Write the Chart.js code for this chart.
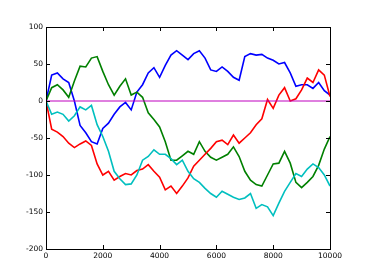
<!DOCTYPE html>
<html>
<head>
<meta charset="utf-8">
<script src="https://cdn.jsdelivr.net/npm/chart.js@4"></script>
<style>
  html, body { margin:0; padding:0; background:#fff; }
  #wrap { width:367px; height:277px; }
</style>
</head>
<body>
<div id="wrap"><canvas id="chart" width="367" height="277"></canvas></div>
<script>
// Steps every 200 steps
const steps = [];
for (let s = 0; s <= 10000; s += 200) steps.push(s);

const walkBlue = [0,35,38,30,25,0,-33,-43,-55,-58,-37,-30,-18,-8,-2,-12,12,22,38,45,32,48,62,68,62,56,64,68,58,42,40,46,40,32,28,60,64,62,63,58,55,50,52,38,20,22,22,17,25,14,8];
const walkGreen = [0,18,22,15,5,27,47,46,58,60,40,22,8,20,30,8,12,5,-16,-25,-35,-55,-80,-80,-74,-68,-72,-55,-68,-76,-80,-76,-72,-62,-75,-95,-107,-113,-115,-100,-85,-84,-68,-84,-110,-117,-110,-102,-87,-65,-48];
const walkRed = [0,-38,-42,-48,-57,-63,-58,-54,-60,-85,-100,-95,-107,-102,-98,-100,-94,-92,-86,-95,-103,-120,-115,-125,-115,-104,-88,-80,-72,-64,-55,-53,-59,-46,-57,-50,-43,-32,-24,2,-10,8,18,0,3,15,31,25,42,35,6];
const walkCyan = [0,-18,-15,-18,-27,-20,-8,-12,-6,-32,-48,-68,-95,-105,-113,-112,-100,-80,-75,-66,-72,-72,-78,-86,-80,-95,-105,-110,-118,-125,-130,-122,-126,-130,-133,-131,-125,-145,-140,-143,-155,-138,-122,-110,-98,-102,-92,-85,-90,-100,-115];
const zeroLineX = [0, 10000];
const zeroLineY = [0, 0];

const xTicks = [0,2000,4000,6000,8000,10000];
const yTicks = [-200,-150,-100,-50,0,50,100];

function pts(ys, xs) { return ys.map((y, i) => ({ x: xs[i], y: y })); }

// frame + inward tick marks on all four sides, like the reference
const frameTicks = {
  id: 'frameTicks',
  afterDraw(chart) {
    const { ctx, chartArea: a, scales } = chart;
    ctx.save();
    ctx.strokeStyle = '#000';
    ctx.lineWidth = 1;
    ctx.beginPath();
    xTicks.forEach(v => {
      const px = Math.round(scales.x.getPixelForValue(v)) + 0.5;
      ctx.moveTo(px, a.bottom); ctx.lineTo(px, a.bottom - 4);
      ctx.moveTo(px, a.top); ctx.lineTo(px, a.top + 4);
    });
    yTicks.forEach(v => {
      const py = Math.round(scales.y.getPixelForValue(v)) + 0.5;
      ctx.moveTo(a.left, py); ctx.lineTo(a.left + 4, py);
      ctx.moveTo(a.right, py); ctx.lineTo(a.right - 4, py);
    });
    ctx.stroke();
    ctx.strokeRect(Math.round(a.left) + 0.5, Math.round(a.top) + 0.5,
                   Math.round(a.right - a.left), Math.round(a.bottom - a.top));
    ctx.restore();
  }
};

const lineDs = (data, color, order) => ({
  data: data, borderColor: color, backgroundColor: color,
  borderWidth: 1.6, pointRadius: 0, tension: 0, fill: false, order: order
});

new Chart(document.getElementById('chart').getContext('2d'), {
  type: 'line',
  data: {
    datasets: [
      lineDs(pts(walkBlue, steps), '#0000ff', 5),
      lineDs(pts(walkGreen, steps), '#008000', 4),
      lineDs(pts(walkRed, steps), '#ff0000', 3),
      lineDs(pts(walkCyan, steps), '#00bfbf', 2),
      Object.assign(lineDs(pts(zeroLineY, zeroLineX), '#bf00bf', 1), { borderWidth: 1 })
    ]
  },
  options: {
    responsive: false,
    animation: false,
    parsing: true,
    layout: { padding: { top: 27, right: 37, left: 0, bottom: 0 } },
    plugins: { legend: { display: false }, tooltip: { enabled: false } },
    scales: {
      x: {
        type: 'linear', min: 0, max: 10000,
        afterBuildTicks: s => { s.ticks = xTicks.map(v => ({ value: v })); },
        afterFit: s => { s.height = 28; },
        grid: { display: false, drawTicks: false },
        border: { display: false },
        ticks: { color: '#000', padding: 3, maxRotation: 0, font: { family: 'DejaVu Sans', size: 7.5 }, callback: v => String(v) }
      },
      y: {
        min: -200, max: 100,
        afterBuildTicks: s => { s.ticks = yTicks.map(v => ({ value: v })); },
        afterFit: s => { s.width = 46; },
        grid: { display: false, drawTicks: false },
        border: { display: false },
        ticks: { color: '#000', padding: 3, font: { family: 'DejaVu Sans', size: 7.5 }, callback: v => String(v) }
      }
    }
  },
  plugins: [frameTicks]
});
</script>
</body>
</html>
